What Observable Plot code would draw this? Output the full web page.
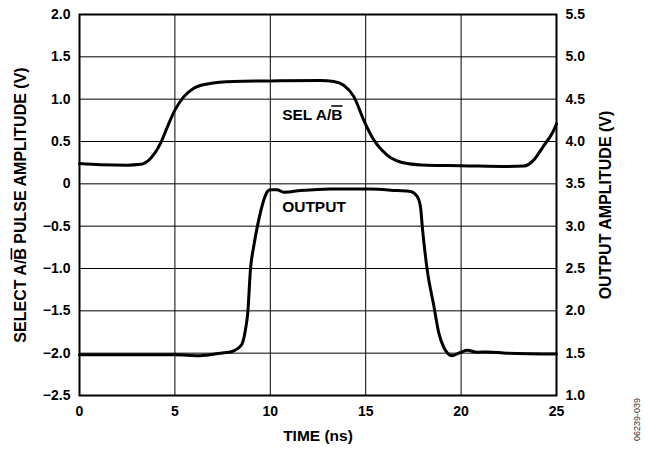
<!DOCTYPE html>
<html><head><meta charset="utf-8">
<script src="https://cdn.jsdelivr.net/npm/d3@7"></script>
<script src="https://cdn.jsdelivr.net/npm/@observablehq/plot@0.6"></script>
<style>body{margin:0;background:#fff}</style>
</head><body><div id="chart"></div>
<script>
// ---- data ----
const timeTicks = [0, 5, 10, 15, 20, 25];
const leftTicks = [-2.5, -2, -1.5, -1, -0.5, 0, 0.5, 1, 1.5, 2];
const leftTickLabels = ["−2.5", "−2.0", "−1.5", "−1.0", "−0.5", "0", "0.5", "1.0", "1.5", "2.0"];
const rightTickLabels = ["1.0", "1.5", "2.0", "2.5", "3.0", "3.5", "4.0", "4.5", "5.0", "5.5"];

// SEL A/B pulse (left axis, V)
const selTime  = [0, 1.1, 2.5, 3.2, 3.72, 4.25, 4.6, 5.0, 5.47, 5.99, 6.69, 8.09, 10, 12.63, 13.33, 13.85, 14.38, 14.9, 15.42, 16.12, 17.17, 18.22, 20, 22.4, 23.3, 23.8, 24.3, 24.86, 25];
const selValue = [0.24, 0.225, 0.22, 0.23, 0.30, 0.48, 0.67, 0.87, 1.03, 1.13, 1.18, 1.21, 1.215, 1.22, 1.21, 1.165, 1.03, 0.75, 0.52, 0.34, 0.24, 0.22, 0.215, 0.205, 0.21, 0.28, 0.44, 0.635, 0.71];

// OUTPUT (right axis, V)
const outTime  = [0, 2, 5, 6.3, 7.4, 8.0, 8.26, 8.52, 8.70, 8.82, 8.96, 9.13, 9.4, 9.66, 9.85, 10.0, 10.35, 10.71, 11.58, 13.15, 15.25, 16.65, 17.35, 17.7, 17.87, 17.98, 18.22, 18.57, 18.83, 19.09, 19.53, 19.97, 20.32, 20.84, 21.37, 22.4, 25];
const outValue = [1.48, 1.48, 1.48, 1.47, 1.50, 1.52, 1.55, 1.61, 1.78, 1.98, 2.49, 2.76, 3.08, 3.31, 3.41, 3.43, 3.43, 3.40, 3.42, 3.44, 3.44, 3.42, 3.41, 3.35, 3.23, 2.96, 2.49, 2.06, 1.74, 1.57, 1.47, 1.51, 1.535, 1.51, 1.515, 1.50, 1.49];

const seriesLabels = ["SEL A/B\u0305", "OUTPUT"];
const seriesLabelTime = [10.62, 10.62];
const seriesLabelValue = [0.81, -0.27]; // left-axis units

const xTitle = "TIME (ns)";
const leftTitle = "SELECT A/B\u0305 PULSE AMPLITUDE (V)";
const rightTitle = "OUTPUT AMPLITUDE (V)";
const figureId = "06239-039";

// ---- build ----
const rightOffset = parseFloat(rightTickLabels[0]) - leftTicks[0]; // 3.5
const sel = selTime.map((t, i) => ({t, v: selValue[i]}));
const out = outTime.map((t, i) => ({t, v: outValue[i] - rightOffset}));
const labels = seriesLabels.map((s, i) => ({s, t: seriesLabelTime[i], v: seriesLabelValue[i]}));

const chart = Plot.plot({
  width: 648,
  height: 451,
  marginLeft: 79,
  marginRight: 92,
  marginTop: 14,
  marginBottom: 56,
  style: {fontFamily: "'Liberation Sans', Arial, sans-serif", fontSize: "14px", fontWeight: "bold", background: "#fff", color: "#000"},
  x: {domain: [0, 25]},
  y: {domain: [-2.5, 2.0]},
  marks: [
    Plot.gridX(timeTicks.slice(1, -1), {stroke: "#000", strokeOpacity: 1, strokeWidth: 1}),
    Plot.gridY(leftTicks.slice(1, -1), {stroke: "#000", strokeOpacity: 1, strokeWidth: 1}),
    Plot.frame({stroke: "#000", strokeWidth: 2}),
    Plot.axisX({ticks: timeTicks, tickSize: 0, tickPadding: 11, tickFormat: d => String(d), label: null, fontSize: 14}),
    Plot.axisY({anchor: "left", ticks: leftTicks, tickSize: 0, tickPadding: 9, tickFormat: d => leftTickLabels[leftTicks.indexOf(d)], label: null, fontSize: 14}),
    Plot.axisY({anchor: "right", ticks: leftTicks, tickSize: 0, tickPadding: 9, tickFormat: d => rightTickLabels[leftTicks.indexOf(d)], label: null, fontSize: 14}),
    Plot.line(sel, {x: "t", y: "v", stroke: "#000", strokeWidth: 3, curve: "monotone-x"}),
    Plot.line(out, {x: "t", y: "v", stroke: "#000", strokeWidth: 3, curve: "monotone-x"}),
    Plot.text(labels, {x: "t", y: "v", text: "s", textAnchor: "start", fontSize: 15.5, fill: "#000"}),
    Plot.text([xTitle], {frameAnchor: "bottom", dy: 41, textAnchor: "middle", lineAnchor: "middle", fontSize: 15.5, fill: "#000"}),
    Plot.text([leftTitle], {frameAnchor: "left", dx: -59, rotate: -90, textAnchor: "middle", lineAnchor: "middle", fontSize: 16, fill: "#000"}),
    Plot.text([rightTitle], {frameAnchor: "right", dx: 49, rotate: -90, textAnchor: "middle", lineAnchor: "middle", fontSize: 16, fill: "#000"}),
    Plot.text([figureId], {frameAnchor: "bottom-right", dx: 81, dy: 24, rotate: -90, textAnchor: "middle", lineAnchor: "middle", fontSize: 9, fontWeight: "normal", fill: "#333"})
  ]
});

// render combining overline as a real overline decoration
const svgns = "http://www.w3.org/2000/svg";
const walker = document.createTreeWalker(chart, NodeFilter.SHOW_TEXT);
const nodes = [];
while (walker.nextNode()) if (walker.currentNode.nodeValue.includes("\u0305")) nodes.push(walker.currentNode);
for (const n of nodes) {
  const parent = n.parentNode;
  for (const p of n.nodeValue.split(/(.\u0305)/)) {
    if (!p) continue;
    if (p.length === 2 && p[1] === "\u0305") {
      const ts = document.createElementNS(svgns, "tspan");
      ts.setAttribute("text-decoration", "overline");
      ts.style.textDecoration = "overline";
      ts.textContent = p[0];
      parent.insertBefore(ts, n);
    } else {
      parent.insertBefore(document.createTextNode(p), n);
    }
  }
  parent.removeChild(n);
}
document.getElementById("chart").appendChild(chart);
</script>
</body></html>
